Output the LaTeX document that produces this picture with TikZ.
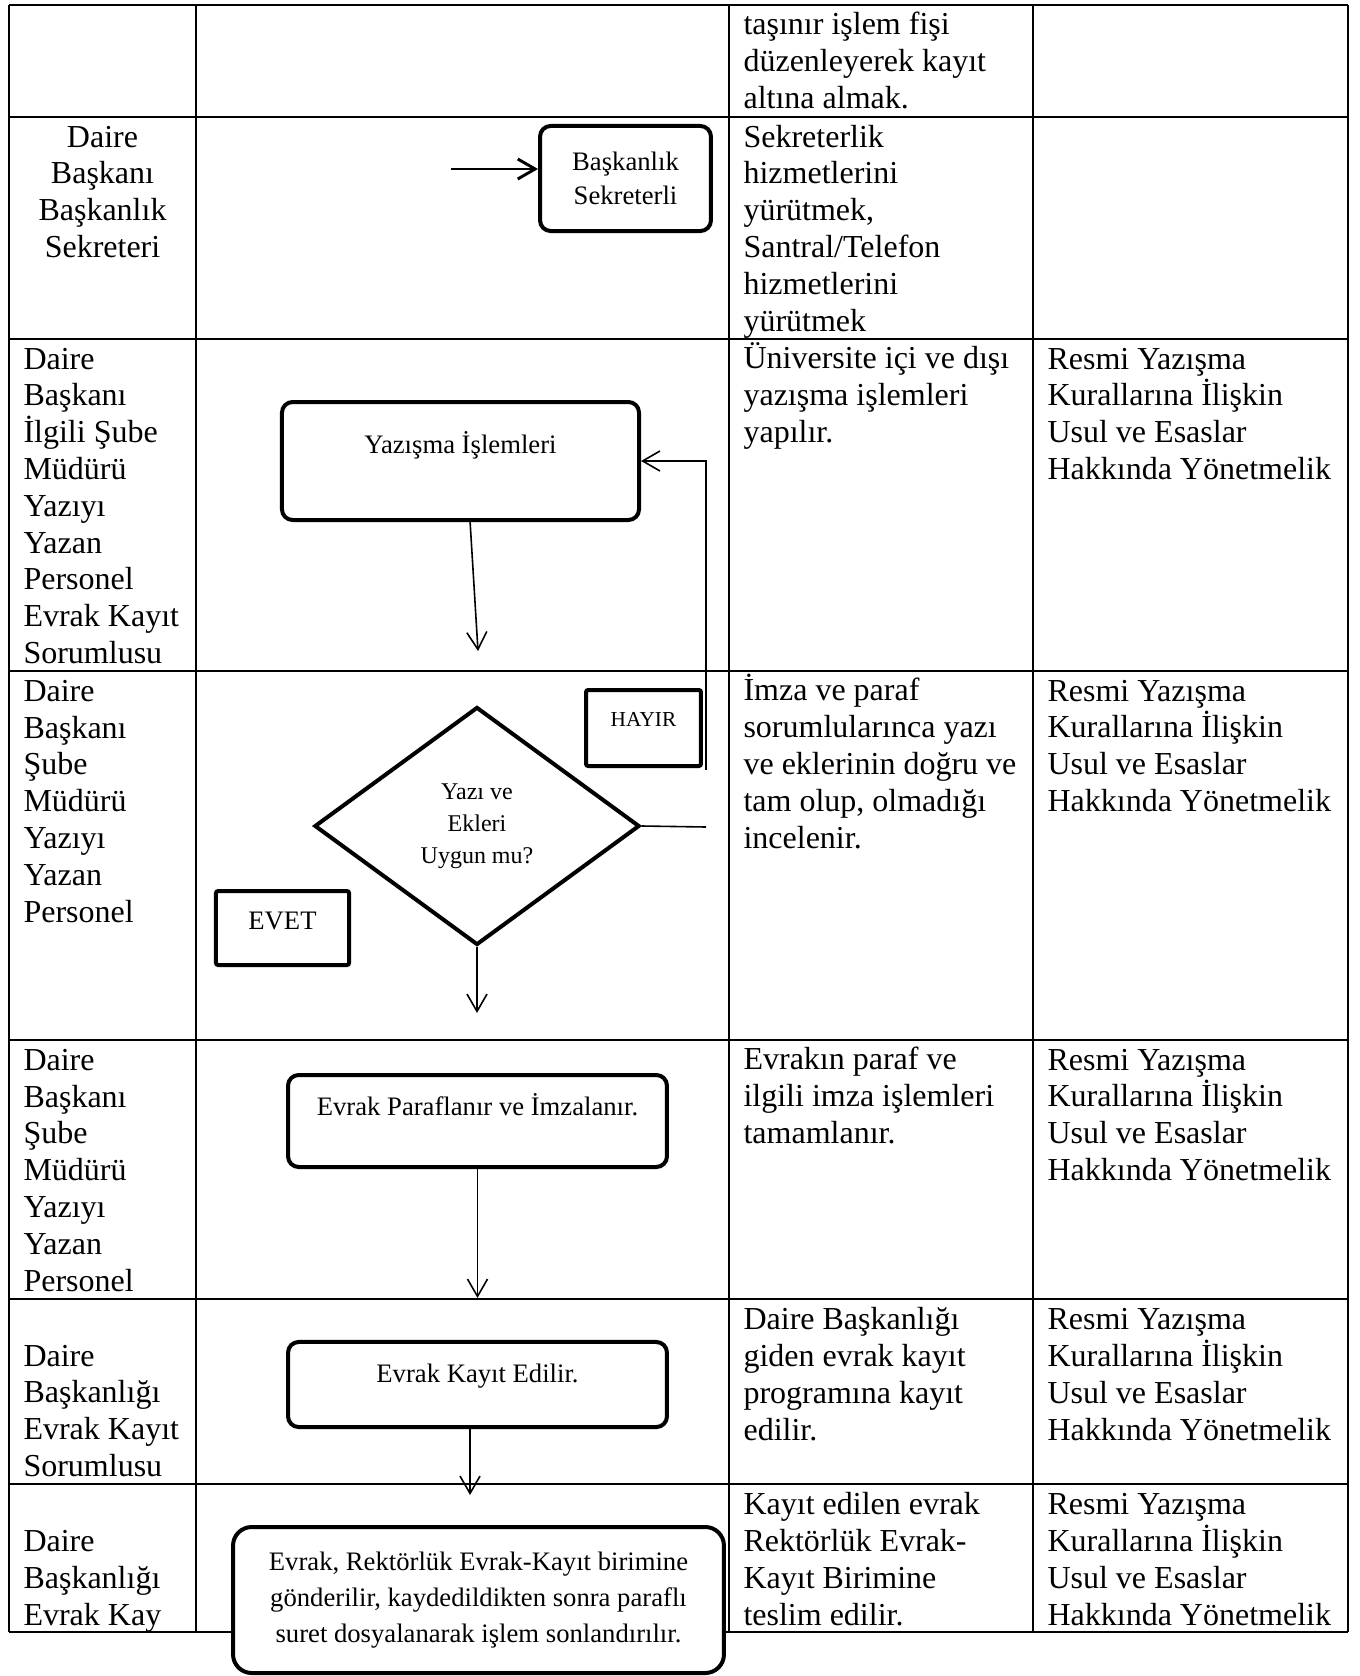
\documentclass[tikz,border=0pt]{standalone}
\usepackage{fontspec}
\setmainfont{Liberation Serif}
\usetikzlibrary{arrows.meta,shapes.geometric}

\begin{document}
\begin{tikzpicture}[x=0.375pt, y=-0.375pt,
    >={Straight Barb[length=6.5pt,width=7.5pt]},
    grid/.style={line width=0.8pt},
    % base of a multi-line node = baseline of its last line
    celltxt/.style={font=\fontsize{12}{13.8}\selectfont, align=left, anchor=base west, inner sep=0pt},
    proc/.style={draw, line width=1.5pt, rounded corners=4pt, fill=white, inner sep=0pt,
        font=\fontsize{10}{12.75}\selectfont, align=center},
    tag/.style={draw, line width=1.5pt, rounded corners=0.8pt, fill=white, inner sep=0pt},
    link/.style={line width=0.6pt}]
    \useasboundingbox (0,0) rectangle (1359,1676);

    % table
    \foreach \y in {5,117,339,671,1040,1299,1484,1632}
        \draw[grid] (9,\y) -- (1348,\y);
    \foreach \x in {9,196,729,1033,1348}
        \draw[grid] (\x,5) -- (\x,1632);

    % first column
    \node[celltxt, align=center, anchor=base] (who1) at (102.5,257.5) {Daire\\Başkanı\\Başkanlık\\Sekreteri};
    \node[celltxt] (who2) at (23,663.5) {Daire\\Başkanı\\İlgili Şube\\Müdürü\\Yazıyı\\Yazan\\Personel\\Evrak Kayıt\\Sorumlusu};
    \node[celltxt] (who3) at (23,922) {Daire\\Başkanı\\Şube\\Müdürü\\Yazıyı\\Yazan\\Personel};
    \node[celltxt] (who4) at (23,1291) {Daire\\Başkanı\\Şube\\Müdürü\\Yazıyı\\Yazan\\Personel};
    \node[celltxt] (who5) at (23,1476.5) {Daire\\Başkanlığı\\Evrak Kayıt\\Sorumlusu};
    \node[celltxt] (who6) at (23,1625) {Daire\\Başkanlığı\\Evrak Kay};

    % third column
    \node[celltxt] (job0) at (743,108.5) {taşınır işlem fişi\\düzenleyerek kayıt\\altına almak.};
    \node[celltxt] (job1) at (743,331) {Sekreterlik\\hizmetlerini\\yürütmek,\\Santral/Telefon\\hizmetlerini\\yürütmek};
    \node[celltxt] (job2) at (743,442.5) {Üniversite içi ve dışı\\yazışma işlemleri\\yapılır.};
    \node[celltxt] (job3) at (743,848) {İmza ve paraf\\sorumlularınca yazı\\ve eklerinin doğru ve\\tam olup, olmadığı\\incelenir.};
    \node[celltxt] (job4) at (743,1143.5) {Evrakın paraf ve\\ilgili imza işlemleri\\tamamlanır.};
    \node[celltxt] (job5) at (743,1440) {Daire Başkanlığı\\giden evrak kayıt\\programına kayıt\\edilir.};
    \node[celltxt] (job6) at (743,1625) {Kayıt edilen evrak\\Rektörlük Evrak-\\Kayıt Birimine\\teslim edilir.};

    % fourth column
    \foreach \n/\y in {2/479.5, 3/811.5, 4/1180.5, 5/1440, 6/1625}
        \node[celltxt] (rule\n) at (1047,\y) {Resmi Yazışma\\Kurallarına İlişkin\\Usul ve Esaslar\\Hakkında Yönetmelik};

    % flow
    \node[proc, minimum width=64.1pt, minimum height=39.4pt] (bsek) at (625.5,178.5) {Başkanlık\\Sekreterli};
    \coordinate (bin) at (451,169);
    \draw[->, line width=1.1pt] (bin) -- (bin -| bsek.west);

    \node[proc, minimum width=133.9pt, minimum height=44.25pt, text height=7pt, text depth=13pt] (yaz) at (460.5,461) {Yazışma İşlemleri};
    \coordinate (a1) at (478,651);
    \draw[->, link] ([xshift=3.6pt]yaz.south) -- (a1);

    \node[diamond, draw, line width=1.5pt, fill=white, inner sep=0pt, minimum width=121.9pt, minimum height=89.25pt,
        font=\fontsize{9}{12}\selectfont, align=center] (dec) at (477,826) {Yazı ve\\Ekleri\\Uygun mu?};
    \node[tag, minimum width=43.1pt, minimum height=28.5pt, text height=6pt, text depth=7.5pt,
        font=\fontsize{8}{9}\selectfont] (hayir) at (643.5,728) {HAYIR};
    \node[tag, minimum width=49.9pt, minimum height=27.75pt, text height=7pt, text depth=6pt,
        font=\fontsize{10}{12}\selectfont] (evet) at (282.5,928) {EVET};
    \coordinate (hr) at (706,827);
    \coordinate (vb) at (706,770);
    \draw[link] (dec.east) -- (hr);
    \draw[->, link] (vb) |- (yaz.east);
    \coordinate (a2) at (477,1013);
    \draw[->, link] (dec.south) -- (a2);

    \node[proc, minimum width=142.1pt, minimum height=34.5pt, text height=7pt, text depth=11pt] (evp) at (477.5,1121) {Evrak Paraflanır ve İmzalanır.};
    \coordinate (a3) at (477.5,1298);
    \draw[->, link] (evp.south) -- (a3);

    \node[proc, minimum width=142.1pt, minimum height=31.9pt, text height=7pt, text depth=8.5pt] (evk) at (477.5,1384.5) {Evrak Kayıt Edilir.};
    \coordinate (a4) at (470,1495);
    \draw[->, link] ([xshift=-2.8pt]evk.south) -- (a4);

    \node[proc, rounded corners=7pt, minimum width=184.1pt, minimum height=54.75pt,
        font=\fontsize{10}{13.6}\selectfont] (fin) at (478.5,1600) {Evrak, Rektörlük Evrak-Kayıt birimine\\gönderilir, kaydedildikten sonra paraflı\\suret dosyalanarak işlem sonlandırılır.};
\end{tikzpicture}
\end{document}
